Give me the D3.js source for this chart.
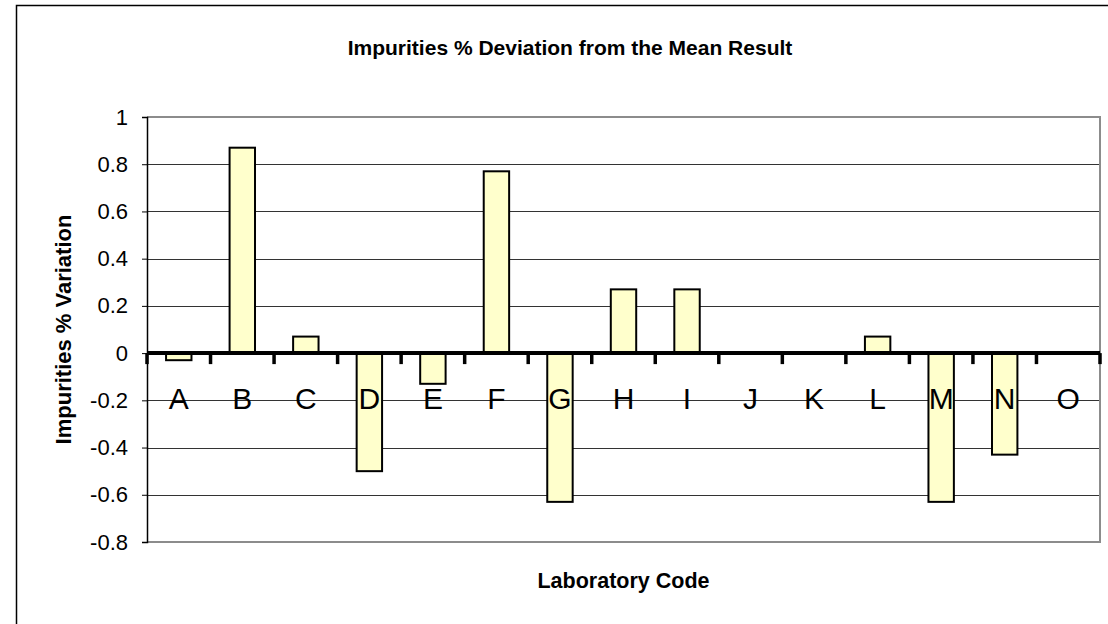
<!DOCTYPE html>
<html>
<head>
<meta charset="utf-8">
<script src="https://cdn.jsdelivr.net/npm/d3@7"></script>
<style>
  body { margin: 0; background: #fff; }
  text { font-family: "Liberation Sans", Arial, sans-serif; }
</style>
</head>
<body>
<div id="chart"></div>
<script>
// Lab codes + deviation from mean
const categories = ["A", "B", "C", "D", "E", "F", "G", "H", "I", "J", "K", "L", "M", "N", "O"];
const values = [-0.03, 0.87, 0.07, -0.5, -0.13, 0.77, -0.63, 0.27, 0.27, 0, 0, 0.07, -0.63, -0.43, 0];
const yTicks = [-0.8, -0.6, -0.4, -0.2, 0, 0.2, 0.4, 0.6, 0.8, 1];

const W = 1108, H = 624;
const plot = { left: 147, right: 1100, top: 117, bottom: 542 };

const svg = d3.select("#chart").append("svg")
  .attr("width", W)
  .attr("height", H);

// outer chart border (right/bottom run off the picture)
svg.append("rect")
  .attr("x", 16.5).attr("y", 5.5)
  .attr("width", 1130).attr("height", 640)
  .attr("fill", "#fff")
  .attr("stroke", "#000")
  .attr("stroke-width", 1.5);

// Scales
const y = d3.scaleLinear()
  .domain([-0.8, 1])
  .range([plot.bottom, plot.top]);

const xCat = d3.scaleBand()
  .domain(categories)
  .range([plot.left, plot.right]);

const xBar = d3.scaleBand()
  .domain(categories)
  .range([plot.left, plot.right])
  .paddingInner(0.6)
  .paddingOuter(0.3);

// Gridlines
svg.append("g")
  .selectAll("line")
  .data(yTicks.filter(d => d !== 1))
  .join("line")
  .attr("x1", plot.left).attr("x2", plot.right)
  .attr("y1", d => Math.round(y(d)) + 0.5)
  .attr("y2", d => Math.round(y(d)) + 0.5)
  .attr("stroke", "#333")
  .attr("stroke-width", 1);

// plot area border (top / right / bottom grey)
svg.append("path")
  .attr("d", `M${plot.left},${plot.top}H${plot.right}V${plot.bottom}H${plot.left}`)
  .attr("fill", "none")
  .attr("stroke", "#8c8c8c")
  .attr("stroke-width", 2);

// Y axis
const yAxis = svg.append("g")
  .attr("transform", `translate(${plot.left},0)`)
  .call(d3.axisLeft(y).tickValues(yTicks).tickSize(5).tickPadding(14).tickFormat(d => String(d)));
yAxis.select(".domain").attr("stroke", "#000").attr("stroke-width", 1.5);
yAxis.selectAll(".tick line").attr("stroke", "#000");
yAxis.selectAll(".tick text")
  .style("font-size", "22px")
  .attr("fill", "#000");

// Bars
svg.append("g")
  .selectAll("rect")
  .data(categories.map((c, i) => ({ cat: c, value: values[i] })).filter(d => d.value !== 0))
  .join("rect")
  .attr("x", d => xBar(d.cat))
  .attr("width", xBar.bandwidth())
  .attr("y", d => y(Math.max(0, d.value)))
  .attr("height", d => Math.abs(y(d.value) - y(0)))
  .attr("fill", "#ffffcc")
  .attr("stroke", "#000")
  .attr("stroke-width", 2);

// Category labels (drawn over bars, as in the original)
svg.append("g")
  .selectAll("text")
  .data(categories)
  .join("text")
  .attr("x", d => xCat(d) + xCat.bandwidth() / 2)
  .attr("y", 409)
  .attr("text-anchor", "middle")
  .style("font-size", "30px")
  .text(d => d);

// Zero axis with tick marks between categories
svg.append("line")
  .attr("x1", plot.left).attr("x2", plot.right)
  .attr("y1", y(0)).attr("y2", y(0))
  .attr("stroke", "#000")
  .attr("stroke-width", 4);

svg.append("g")
  .selectAll("line")
  .data(categories.concat(["end"]))
  .join("line")
  .attr("x1", (d, i) => plot.left + i * xCat.step())
  .attr("x2", (d, i) => plot.left + i * xCat.step())
  .attr("y1", y(0))
  .attr("y2", y(0) + 11)
  .attr("stroke", "#000")
  .attr("stroke-width", 3.5);

// Titles
svg.append("text")
  .attr("x", 570)
  .attr("y", 55)
  .attr("text-anchor", "middle")
  .style("font-size", "21px")
  .style("font-weight", "bold")
  .text("Impurities % Deviation from the Mean Result");

svg.append("text")
  .attr("x", (plot.left + plot.right) / 2)
  .attr("y", 588)
  .attr("text-anchor", "middle")
  .style("font-size", "21.5px")
  .style("font-weight", "bold")
  .text("Laboratory Code");

svg.append("text")
  .attr("transform", `translate(71,${(plot.top + plot.bottom) / 2}) rotate(-90)`)
  .attr("text-anchor", "middle")
  .style("font-size", "22px")
  .style("font-weight", "bold")
  .text("Impurities % Variation");
</script>
</body>
</html>
